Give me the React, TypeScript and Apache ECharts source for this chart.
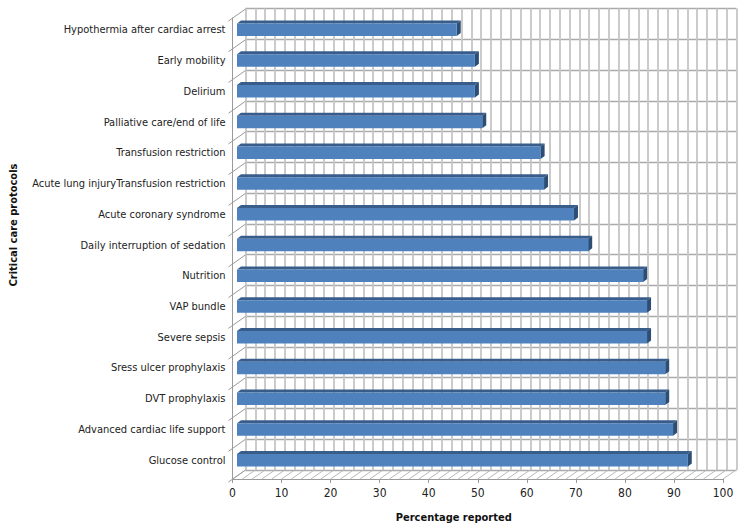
import React, { useEffect, useRef } from "react";
import * as echarts from "echarts";

const categories = [
  "Glucose control",
  "Advanced cardiac life support",
  "DVT prophylaxis",
  "Sress ulcer prophylaxis",
  "Severe sepsis",
  "VAP bundle",
  "Nutrition",
  "Daily interruption of sedation",
  "Acute coronary syndrome",
  "Acute lung injuryTransfusion restriction",
  "Transfusion restriction",
  "Palliative care/end of life",
  "Delirium",
  "Early mobility",
  "Hypothermia after cardiac arrest",
];
const percentages = [91.9, 88.9, 87.3, 87.3, 83.6, 83.6, 82.8, 71.6, 68.7, 62.6, 61.9, 50, 48.5, 48.5, 44.8];
const wallTicks = [0, 2, 4, 6, 8, 10, 12, 14, 16, 18, 20, 22, 24, 26, 28, 30, 32, 34, 36, 38, 40, 42, 44, 46, 48, 50, 52, 54, 56, 58, 60, 62, 64, 66, 68, 70, 72, 74, 76, 78, 80, 82, 84, 86, 88, 90, 92, 94, 96, 98, 100];

const FONT = "'DejaVu Sans Condensed', 'Noto Sans', sans-serif";
const DEPTH_X = 13;
const DEPTH_Y = 9;
const BAR_DX = 4.5;
const BAR_DY = 3.5;
const BAR_SIDE_X = 4;
const BAR_SIDE_Y = 3;
const BAR_H = 12.5;
const GRID_GREY = "#b8b8b8";

export default function App() {
  const ref = useRef<HTMLDivElement>(null);
  useEffect(() => {
    const chart = echarts.init(ref.current!, undefined, { renderer: "svg" });
    const oblique = (x1: number, y1: number, grey = GRID_GREY, width = 1) => ({
      type: "line",
      shape: { x1, y1, x2: x1 + DEPTH_X, y2: y1 - DEPTH_Y },
      style: { stroke: grey, lineWidth: width },
    });
    chart.setOption({
      animation: false,
      backgroundColor: "#ffffff",
      grid: [
        { left: 232.5, top: 18, width: 490.5, height: 461, outerBoundsMode: "none" },
        { left: 245.5, top: 8.5, width: 491, height: 461.5, outerBoundsMode: "none" },
      ],
      xAxis: [
        {
          gridIndex: 0,
          type: "value",
          min: 0,
          max: 100,
          interval: 10,
          name: "Percentage reported",
          nameLocation: "middle",
          nameGap: 33,
          nameTextStyle: { fontFamily: FONT, fontSize: 11, fontWeight: "bold", color: "#111", padding: [0, 48, 0, 0] },
          axisLine: { show: true, lineStyle: { color: "#9a9a9a", width: 1 } },
          axisTick: { show: true, length: 4, lineStyle: { color: "#9a9a9a" } },
          axisLabel: { fontFamily: FONT, fontSize: 12, color: "#222", margin: 8 },
          splitLine: { show: false },
        },
        {
          gridIndex: 1,
          type: "value",
          min: 0,
          max: 100,
          interval: 2,
          axisLine: { show: false },
          axisTick: { show: false },
          axisLabel: { show: false },
          splitLine: { show: true, lineStyle: { color: "#c6c6c6", width: 1.8 } },
        },
      ],
      yAxis: [
        {
          gridIndex: 0,
          type: "category",
          data: categories,
          name: "Critical care protocols",
          nameLocation: "middle",
          nameGap: 214,
          nameRotate: 90,
          nameTextStyle: { fontFamily: FONT, fontSize: 11, fontWeight: "bold", color: "#111", padding: [0, 0, 0, 47] },
          axisLine: { show: true, lineStyle: { color: "#9a9a9a", width: 1 } },
          axisTick: { show: false },
          axisLabel: { fontFamily: FONT, fontSize: 11, color: "#222", margin: 7, interval: 0, verticalAlign: "bottom", lineHeight: 7 },
          splitLine: { show: false },
        },
        {
          gridIndex: 1,
          type: "category",
          data: categories,
          axisLine: { show: false },
          axisTick: { show: false },
          axisLabel: { show: false },
          splitLine: { show: true, interval: 0, lineStyle: { color: "#aaaaaa", width: 1.4 } },
        },
      ],
      series: [
        {
          type: "custom",
          name: "Floor",
          xAxisIndex: 0,
          yAxisIndex: 0,
          silent: true,
          z: 1,
          coordinateSystem: "cartesian2d",
          encode: { x: 0 },
          data: wallTicks.map((t) => [t, 0]),
          renderItem: (_p: any, api: any) => {
            const [x] = api.coord([api.value(0), 0]);
            const y = api.coord([0, 0])[1] + api.size([0, 1])[1] / 2;
            return oblique(x, y);
          },
        },
        {
          type: "custom",
          name: "Side wall",
          xAxisIndex: 0,
          yAxisIndex: 0,
          silent: true,
          z: 1,
          encode: { y: 1 },
          data: [...categories.map((_, i) => [0, i]), [0, categories.length]],
          renderItem: (_p: any, api: any) => {
            const step = api.size([0, 1])[1];
            const x = api.coord([0, 0])[0];
            const y = api.coord([0, api.value(1)])[1] + step / 2;
            const line = oblique(x, y, "#9a9a9a");
            line.shape.x1 = x - 4;
            line.shape.y1 = y + 3;
            return line;
          },
        },
        {
          type: "custom",
          name: "Percentage reported",
          xAxisIndex: 0,
          yAxisIndex: 0,
          z: 5,
          encode: { x: 0, y: 1 },
          data: percentages.map((v, i) => [v, i]),
          renderItem: (_p: any, api: any) => {
            const base = api.coord([0, api.value(1)]);
            const end = api.coord([api.value(0), api.value(1)]);
            const x0 = base[0] + BAR_DX;
            const x1 = end[0] + BAR_DX;
            const top = base[1] - BAR_DY - BAR_H / 2;
            const bottom = top + BAR_H;
            return {
              type: "group",
              children: [
                {
                  type: "polygon",
                  shape: { points: [[x0, top], [x0 + BAR_SIDE_X, top - BAR_SIDE_Y], [x1 + BAR_SIDE_X, top - BAR_SIDE_Y], [x1, top]] },
                  style: { fill: "#385d8a" },
                },
                {
                  type: "polygon",
                  shape: { points: [[x1, top], [x1 + BAR_SIDE_X, top - BAR_SIDE_Y], [x1 + BAR_SIDE_X, bottom - BAR_SIDE_Y], [x1, bottom]] },
                  style: { fill: "#2c4d75" },
                },
                {
                  type: "rect",
                  shape: { x: x0, y: top, width: x1 - x0, height: BAR_H },
                  style: { fill: "#4f81bd" },
                },
              ],
            };
          },
        },
      ],
    });
    return () => chart.dispose();
  }, []);
  return <div ref={ref} style={{ position: "absolute", left: 0, top: 0, width: 756, height: 530 }} />;
}
